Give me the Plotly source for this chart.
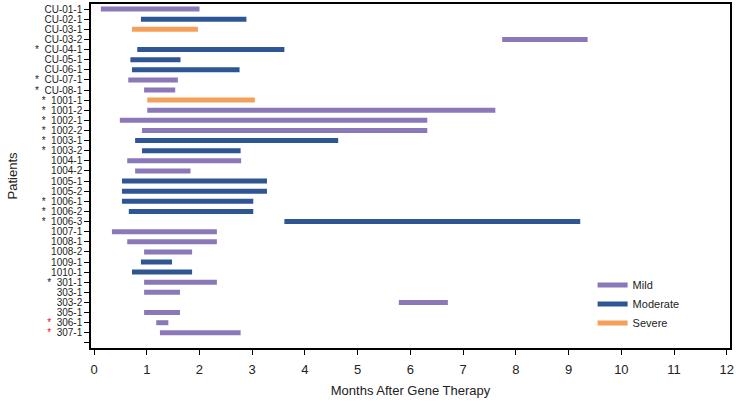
import plotly.graph_objects as go

patients = ["CU-01-1", "CU-02-1", "CU-03-1", "CU-03-2", "CU-04-1", "CU-05-1", "CU-06-1",
            "CU-07-1", "CU-08-1", "1001-1", "1001-2", "1002-1", "1002-2", "1003-1",
            "1003-2", "1004-1", "1004-2", "1005-1", "1005-2", "1006-1", "1006-2",
            "1006-3", "1007-1", "1008-1", "1008-2", "1009-1", "1010-1", "301-1",
            "303-1", "303-2", "305-1", "306-1", "307-1"]
marks = ["", "", "", "", "black", "", "", "black", "black", "black", "black", "black",
         "black", "black", "black", "", "", "", "", "black", "black", "black", "", "",
         "", "", "", "black", "", "", "", "red", "red"]
severity = ["Mild", "Moderate", "Severe", "Mild", "Moderate", "Moderate", "Moderate",
            "Mild", "Mild", "Severe", "Mild", "Mild", "Mild", "Moderate", "Moderate",
            "Mild", "Mild", "Moderate", "Moderate", "Moderate", "Moderate", "Moderate",
            "Mild", "Mild", "Mild", "Moderate", "Moderate", "Mild", "Mild", "Mild",
            "Mild", "Mild", "Mild"]
start = [0.13, 0.89, 0.72, 7.74, 0.82, 0.69, 0.72, 0.65, 0.95, 1.01, 1.01, 0.49, 0.91,
         0.78, 0.91, 0.63, 0.78, 0.53, 0.53, 0.53, 0.66, 3.61, 0.34, 0.63, 0.95, 0.89,
         0.72, 0.95, 0.95, 5.78, 0.95, 1.18, 1.25]
end = [2.00, 2.89, 1.97, 9.36, 3.61, 1.64, 2.76, 1.59, 1.54, 3.05, 7.61, 6.32, 6.32,
       4.63, 2.78, 2.79, 1.83, 3.28, 3.28, 3.02, 3.02, 9.22, 2.33, 2.33, 1.86, 1.48,
       1.86, 2.33, 1.63, 6.71, 1.63, 1.41, 2.78]
levels = ["Mild", "Moderate", "Severe"]
colors = {"Mild": "#8a78b8", "Moderate": "#2e5594", "Severe": "#f5a05a"}
x_ticks = list(range(0, 13))

fig = go.Figure()
for lev in levels:
    xs, ys = [], []
    for i, p in enumerate(patients):
        if severity[i] == lev:
            xs += [start[i], end[i], None]
            ys += [i, i, None]
    fig.add_trace(go.Scatter(x=xs, y=ys, mode="lines", name=lev,
                             line=dict(color=colors[lev], width=5)))

ticktext = []
for p, m in zip(patients, marks):
    if m == "black":
        ticktext.append("*  " + p)
    elif m == "red":
        ticktext.append('<span style="color:red">*</span>  ' + p)
    else:
        ticktext.append(p)
ticktext.append("")

fig.update_layout(
    width=736, height=403,
    margin=dict(l=91, r=5, t=2, b=55),
    plot_bgcolor="white", paper_bgcolor="white",
    font=dict(family="Liberation Sans, Arial, sans-serif", color="#222"),
    showlegend=True,
    legend=dict(x=0.785, y=0.225, xanchor="left", yanchor="top",
                font=dict(size=11), bgcolor="rgba(0,0,0,0)", tracegroupgap=0),
    xaxis=dict(range=[-0.057, 12.06], tickvals=x_ticks, ticks="outside", ticklen=5,
               tickcolor="black", showline=True, linecolor="black", linewidth=1.5,
               mirror=True, showgrid=False, zeroline=False,
               tickfont=dict(size=13), ticklabelstandoff=4,
               title=dict(text="Months After Gene Therapy", font=dict(size=13), standoff=10)),
    yaxis=dict(range=[33.5, -0.5], tickvals=list(range(len(patients) + 1)),
               ticktext=ticktext, ticks="outside", ticklen=5, tickcolor="black",
               showline=True, linecolor="black", linewidth=1.5, mirror=True,
               showgrid=False, zeroline=False, tickfont=dict(size=10),
               title=dict(text="Patients", font=dict(size=13), standoff=14)),
)

fig.write_html("out.html", config={"displayModeBar": False},
               post_script="document.body.style.margin='0';document.body.style.padding='0';")
